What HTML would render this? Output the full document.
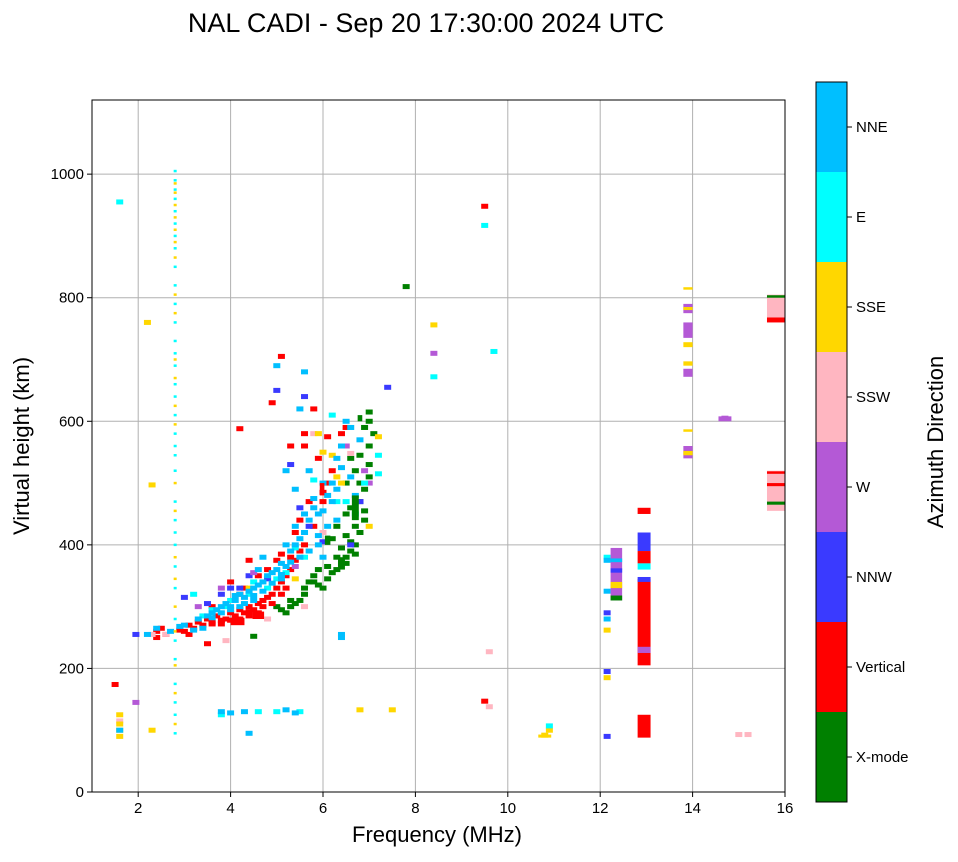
<!DOCTYPE html>
<html><head><meta charset="utf-8"><style>
body{margin:0;background:#fff;font-family:"Liberation Sans",sans-serif}
svg text{font-family:"Liberation Sans",sans-serif}
</style></head><body>
<svg id="chart" width="958" height="857" xmlns="http://www.w3.org/2000/svg">
<text x="426" y="32" font-size="27" text-anchor="middle">NAL CADI - Sep 20 17:30:00 2024 UTC</text>
<g id="grid"></g>
<g id="marks"></g>
<g id="axes"></g>
<g id="cbar"></g>
<text x="437" y="842" font-size="22" text-anchor="middle">Frequency (MHz)</text>
<text transform="translate(29,446) rotate(-90)" font-size="22" text-anchor="middle">Virtual height (km)</text>
<text transform="translate(943,442) rotate(-90)" font-size="22" text-anchor="middle">Azimuth Direction</text>
</svg>
<script>
const xTicks=[2,4,6,8,10,12,14,16];
const yTicks=[0,200,400,600,800,1000];
const directions=["X-mode","Vertical","NNW","W","SSW","SSE","E","NNE"];
const dirColors=["#008000","#ff0000","#3a3aff","#b459d6","#ffb6c1","#ffd700","#00ffff","#00bfff"];
// point marks [freq MHz, height km]
const xmodePts=[[4.5,252],[5.2,290],[5.3,300],[5.5,310],[5.6,330],[5.7,340],[5.8,350],[5.9,360],[6.0,330],[6.1,345],[6.2,355],[6.3,360],[6.4,370],[6.5,380],[6.6,390],[6.7,400],[6.8,420],[6.9,440],[6.6,460],[6.8,470],[6.9,490],[7.0,510],[6.7,520],[7.0,560],[7.0,600],[7.0,615],[6.5,500],[6.3,430],[6.5,450],[6.8,545],[7.1,580],[6.2,410],[6.4,395],[7.8,818],[5.4,305],[5.0,300],[5.9,335],[6.6,405],[5.1,295],[5.3,310],[5.6,320],[5.8,340],[6.1,365],[6.3,380],[6.5,415],[6.7,430],[6.9,455],[6.8,500],[7.0,530],[6.6,540],[6.9,590],[6.5,370],[6.7,385]];
const verticalPts=[[1.5,174],[2.4,260],[2.5,265],[2.6,255],[3.0,260],[3.1,270],[3.2,265],[3.3,275],[3.4,270],[3.5,280],[3.6,275],[3.7,285],[3.8,278],[3.9,280],[4.0,290],[4.1,285],[4.2,295],[4.3,290],[4.4,300],[4.5,295],[4.6,305],[4.7,300],[4.8,315],[4.9,320],[5.0,330],[5.1,340],[5.2,350],[5.3,360],[5.4,375],[5.5,390],[5.6,400],[5.3,380],[5.1,385],[5.4,420],[5.5,440],[5.7,470],[5.8,430],[6.0,470],[6.0,485],[6.1,500],[6.2,520],[6.4,580],[6.5,560],[5.6,560],[5.6,580],[4.9,630],[5.1,705],[4.2,588],[3.5,240],[4.0,340],[4.3,330],[4.6,350],[4.8,360],[5.0,375],[6.5,590],[5.9,540],[6.1,575],[9.5,948],[9.5,147],[3.6,300],[4.2,320],[4.4,375],[5.8,620],[5.3,560],[3.6,272],[3.8,272],[4.0,278],[4.2,280],[4.4,285],[4.6,290],[4.2,275],[4.4,292],[4.7,310],[4.9,305],[5.1,320],[5.2,330],[2.4,250],[2.9,262],[3.1,255]];
const nnwPts=[[3.0,315],[3.5,305],[3.8,320],[4.0,330],[4.4,350],[5.0,650],[5.3,530],[5.6,640],[5.5,460],[5.7,430],[6.0,405],[6.8,470],[7.4,655],[1.95,255],[12.15,290],[12.15,195],[12.15,90],[4.8,345],[6.6,400],[4.2,330]];
const wPts=[[1.95,145],[3.8,330],[4.5,355],[5.4,365],[6.5,560],[7.0,500],[8.4,710],[14.7,605],[6.9,520],[3.3,300]];
const ssWPts=[[1.6,115],[2.3,255],[2.6,255],[3.9,245],[4.8,280],[5.8,580],[6.0,420],[6.6,548],[9.6,227],[9.6,138],[15.0,93],[15.2,93],[5.6,300]];
const ssePts=[[1.6,90],[1.6,100],[1.6,110],[1.6,125],[2.2,760],[2.3,497],[2.3,100],[6.0,550],[6.2,545],[6.4,500],[7.0,430],[7.2,575],[5.9,580],[8.4,756],[10.8,92],[10.9,100],[6.8,133],[7.5,133],[12.15,185],[12.15,262],[5.4,345],[4.4,330],[6.3,510]];
const ePts=[[1.6,955],[3.2,320],[3.6,295],[4.0,310],[4.4,320],[4.8,330],[5.2,355],[5.6,380],[6.2,610],[6.5,470],[6.7,450],[6.9,500],[7.2,515],[7.2,545],[9.5,917],[9.7,713],[8.4,672],[10.9,107],[4.6,130],[5.0,130],[5.5,130],[3.8,125],[12.15,380],[5.8,505],[6.3,470],[3.4,285],[3.9,300],[4.5,340],[5.0,345],[5.4,395]];
const nnePts=[[1.6,100],[2.2,255],[2.4,265],[2.7,260],[3.0,270],[3.3,280],[3.5,285],[3.6,290],[3.7,295],[3.8,300],[3.9,305],[4.0,300],[4.1,310],[4.2,320],[4.3,315],[4.4,325],[4.5,330],[4.6,335],[4.7,340],[4.8,350],[4.9,355],[5.0,360],[5.1,370],[5.2,365],[5.3,390],[5.4,400],[5.5,410],[5.6,420],[5.7,440],[5.8,460],[5.9,450],[6.0,455],[6.1,480],[6.2,500],[6.3,540],[6.4,560],[6.5,600],[6.6,590],[6.8,570],[5.2,520],[5.5,620],[5.6,680],[5.0,690],[5.4,490],[5.7,520],[6.4,255],[6.4,250],[6.0,380],[6.3,490],[5.9,400],[4.6,360],[4.7,380],[3.8,130],[4.0,128],[4.3,130],[4.4,95],[5.2,133],[5.4,128],[12.15,375],[12.15,325],[12.15,280],[4.5,310],[4.2,300],[5.1,345],[6.7,480],[3.4,265],[3.6,282],[3.8,290],[4.0,295],[4.1,318],[4.3,305],[4.5,318],[4.7,325],[4.9,338],[5.1,352],[5.3,372],[5.5,380],[5.2,400],[5.4,430],[5.6,450],[5.8,475],[6.0,500],[6.2,470],[6.4,525],[6.6,510],[6.3,440],[6.1,430],[5.9,415],[5.7,390],[2.9,268],[3.2,262]];
// vertical stripe at 2.8 MHz heights (dashes)
const stripeCyan=[95,125,145,175,215,245,280,330,365,400,420,440,470,520,545,560,580,610,640,660,690,710,730,760,790,820,850,880,900,920,940,960,975,990,1005];
const stripeYellow=[110,160,205,260,300,345,380,455,500,595,625,670,700,775,805,865,890,910,930,950,970,985];
// bars [freq, hLow, hHigh, dirIndex, widthMHz]
const barsArr=[[12.95,205,345,1,0.28],[12.95,88,125,1,0.28],[12.95,450,460,1,0.28],[12.95,390,420,2,0.28],[12.95,370,390,1,0.28],[12.95,360,370,6,0.28],[12.95,340,348,2,0.28],[12.95,225,235,3,0.28],[12.35,310,395,3,0.25],[12.35,330,340,5,0.25],[12.35,355,362,2,0.25],[12.35,372,378,7,0.25],[12.35,310,318,0,0.25],[13.9,540,560,3,0.2],[13.9,545,552,5,0.2],[13.9,672,685,3,0.2],[13.9,690,697,5,0.2],[13.9,720,728,5,0.2],[13.9,735,760,3,0.2],[13.9,775,790,3,0.2],[13.9,780,785,5,0.2],[13.9,813,817,5,0.2],[13.9,583,587,5,0.2],[15.8,760,805,4,0.38],[15.8,760,768,1,0.38],[15.8,800,804,0,0.38],[15.8,455,520,4,0.38],[15.8,465,470,0,0.38],[15.8,515,519,1,0.38],[15.8,495,500,1,0.38],[14.7,600,608,3,0.28],[10.8,88,93,5,0.28],[6.1,400,415,0,0.12],[6.4,360,380,0,0.15],[6.7,440,480,0,0.15],[5.98,480,500,1,0.1],[6.8,600,610,0,0.1],[4.15,270,282,1,0.3],[4.6,280,292,1,0.25]];
const X0=92,X1=785,Y0=792,Y1=100,FMIN=1,FMAX=16,HMAX=1120;
const xs=f=>X0+(f-FMIN)/(FMAX-FMIN)*(X1-X0);
const ys=h=>Y0-h/HMAX*(Y0-Y1);
const NS="http://www.w3.org/2000/svg";
function mk(tag,attrs,parent){const e=document.createElementNS(NS,tag);for(const k in attrs)e.setAttribute(k,attrs[k]);parent.appendChild(e);return e;}
const grid=document.getElementById('grid'),axes=document.getElementById('axes'),marks=document.getElementById('marks'),cbar=document.getElementById('cbar');
xTicks.forEach(t=>{const x=xs(t);
 const l=mk('line',{x1:x,x2:x,y1:Y1,y2:Y0,stroke:'#b0b0b0','stroke-width':1},grid);
 mk('line',{x1:x,x2:x,y1:Y0,y2:Y0+5,stroke:'#000'},axes);
 const tx=mk('text',{x:x,y:Y0+21,'font-size':15,'text-anchor':'middle'},axes);tx.textContent=t;});
yTicks.forEach(t=>{const y=ys(t);
 const l=mk('line',{x1:X0,x2:X1,y1:y,y2:y,stroke:'#b0b0b0','stroke-width':1},grid);
 mk('line',{x1:X0-5,x2:X0,y1:y,y2:y,stroke:'#000'},axes);
 const tx=mk('text',{x:X0-8,y:y+5,'font-size':15,'text-anchor':'end'},axes);tx.textContent=t;});
const fr=mk('rect',{x:X0,y:Y1,width:X1-X0,height:Y0-Y1,fill:'none',stroke:'#000','stroke-width':1},axes);
function pt(f,h,c,w,hh){const r=mk('rect',{x:xs(f)-w/2,y:ys(h)-hh/2,width:w,height:hh,fill:dirColors[c]},marks);
 
 }
[[xmodePts,0],[verticalPts,1],[nnwPts,2],[wPts,3],[ssWPts,4],[ssePts,5],[ePts,6],[nnePts,7]].forEach(([arr,c])=>arr.forEach(p=>pt(p[0],p[1],c,7,5)));
stripeCyan.forEach(h=>pt(2.8,h,6,3,2.5));
stripeYellow.forEach(h=>pt(2.8,h,5,3,2.5));
barsArr.forEach(b=>{const r=mk('rect',{x:xs(b[0]-b[4]/2),y:ys(b[2]),width:xs(b[4])-xs(0),height:ys(b[1])-ys(b[2]),fill:dirColors[b[3]]},marks);
 
 });
const CX=816,CW=31,CT=82,CB=802,seg=(CB-CT)/directions.length;
directions.forEach((d,i)=>{const y=CB-(i+1)*seg;
 const r=mk('rect',{x:CX,y:y,width:CW,height:seg,fill:dirColors[i]},cbar);
 mk('line',{x1:CX+CW,x2:CX+CW+5,y1:y+seg/2,y2:y+seg/2,stroke:'#000'},cbar);
 const t=mk('text',{x:CX+CW+9,y:y+seg/2+5,'font-size':15},cbar);t.textContent=d;});
mk('rect',{x:CX,y:CT,width:CW,height:CB-CT,fill:'none',stroke:'#000'},cbar);
</script>
</body></html>
